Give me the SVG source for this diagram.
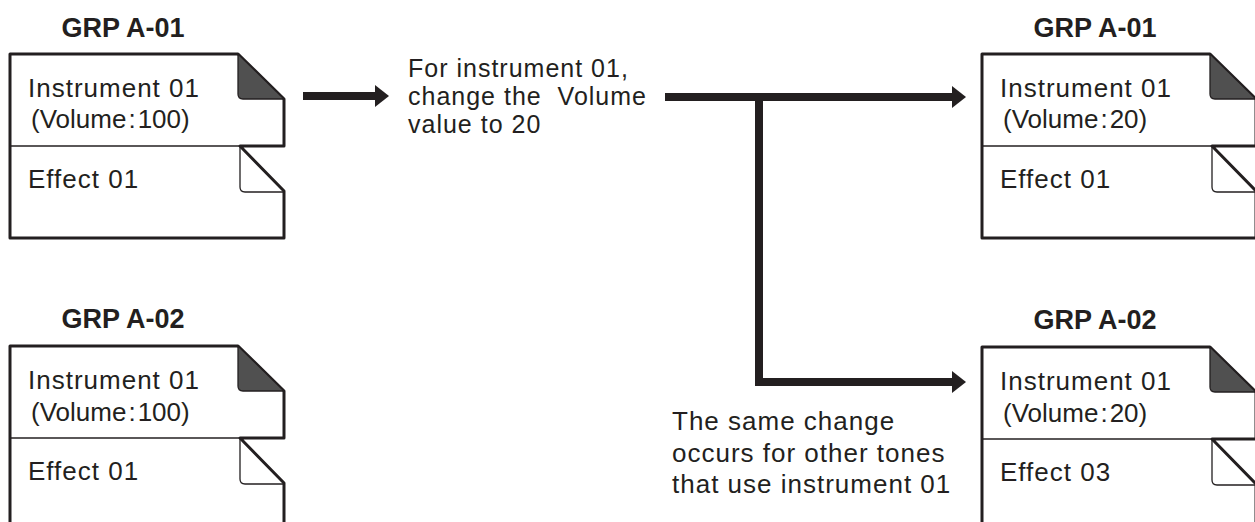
<svg xmlns="http://www.w3.org/2000/svg" xmlns:xlink="http://www.w3.org/1999/xlink" width="1255" height="522" viewBox="0 0 1255 522">
<style>
.frame{fill:#fff;stroke:#231f20;stroke-width:3;stroke-linejoin:round}
.thin{fill:none;stroke:#231f20;stroke-width:1.3;stroke-linejoin:round}
.fold{fill:#505050;stroke:#231f20;stroke-width:1.3;stroke-linejoin:round}
.lbl{font-family:"Liberation Sans",Arial,sans-serif;font-weight:bold;font-size:27px;fill:#231f20;text-anchor:middle}
.txt{font-family:"Liberation Sans",Arial,sans-serif;font-size:26px;fill:#231f20;letter-spacing:1px}
.vol{letter-spacing:0}
.note{font-size:25px}
.conn{fill:none;stroke:#231f20;stroke-width:8;stroke-linejoin:miter}
</style>
<defs>
<marker id="ah" markerUnits="userSpaceOnUse" markerWidth="14" markerHeight="22" refX="1" refY="11" orient="auto" overflow="visible">
<path d="M0,0 L14,11 L0,22 Z" fill="#231f20"/>
</marker>
<g id="doc">
<path class="frame" d="M0,0 H228 L274,45 V92 H230 L274,137 V184 H0 Z"/>
<path class="fold" d="M228,0 V40 Q228,45 233,45 H274 Z"/>
<path class="thin" d="M0,92 H230"/>
<path class="thin" d="M230,93 V133 Q230,138 235,138 H274"/>
</g>
</defs>

<g id="grp-a01-before" transform="translate(10,54)">
<text class="lbl" x="113" y="-17">GRP A-01</text>
<use xlink:href="#doc"/>
<text class="txt" x="18" y="43">Instrument 01</text>
<text class="txt vol" x="21" y="74">(Volume<tspan dx="2">:</tspan><tspan dx="2">100)</tspan></text>
<text class="txt" x="18" y="134">Effect 01</text>
</g>

<g id="grp-a02-before" transform="translate(10,346)">
<text class="lbl" x="113" y="-18">GRP A-02</text>
<use xlink:href="#doc"/>
<text class="txt" x="18" y="43">Instrument 01</text>
<text class="txt vol" x="21" y="75">(Volume<tspan dx="2">:</tspan><tspan dx="2">100)</tspan></text>
<text class="txt" x="18" y="134">Effect 01</text>
</g>

<g id="grp-a01-after" transform="translate(982,54)">
<text class="lbl" x="113" y="-17">GRP A-01</text>
<use xlink:href="#doc"/>
<text class="txt" x="18" y="43">Instrument 01</text>
<text class="txt vol" x="21" y="74">(Volume<tspan dx="2">:</tspan><tspan dx="2">20)</tspan></text>
<text class="txt" x="18" y="134">Effect 01</text>
</g>

<g id="grp-a02-after" transform="translate(982,347)">
<text class="lbl" x="113" y="-18">GRP A-02</text>
<use xlink:href="#doc"/>
<text class="txt" x="18" y="43">Instrument 01</text>
<text class="txt vol" x="21" y="75">(Volume<tspan dx="2">:</tspan><tspan dx="2">20)</tspan></text>
<text class="txt" x="18" y="134">Effect 03</text>
</g>

<g id="note-change">
<text class="txt note" x="408" y="77">For instrument 01,</text>
<text class="txt note" x="408" y="105" xml:space="preserve">change the  Volume</text>
<text class="txt note" x="408" y="133">value to 20</text>
</g>

<g id="note-same">
<text class="txt" x="672" y="430">The same change</text>
<text class="txt" x="672" y="462">occurs for other tones</text>
<text class="txt" x="672" y="493">that use instrument 01</text>
</g>

<g id="connectors">
<path class="conn" d="M303,96 H376" marker-end="url(#ah)"/>
<path class="conn" d="M665,97 H953" marker-end="url(#ah)"/>
<path class="conn" d="M759,97 V382 H953" marker-end="url(#ah)"/>
</g>
</svg>
